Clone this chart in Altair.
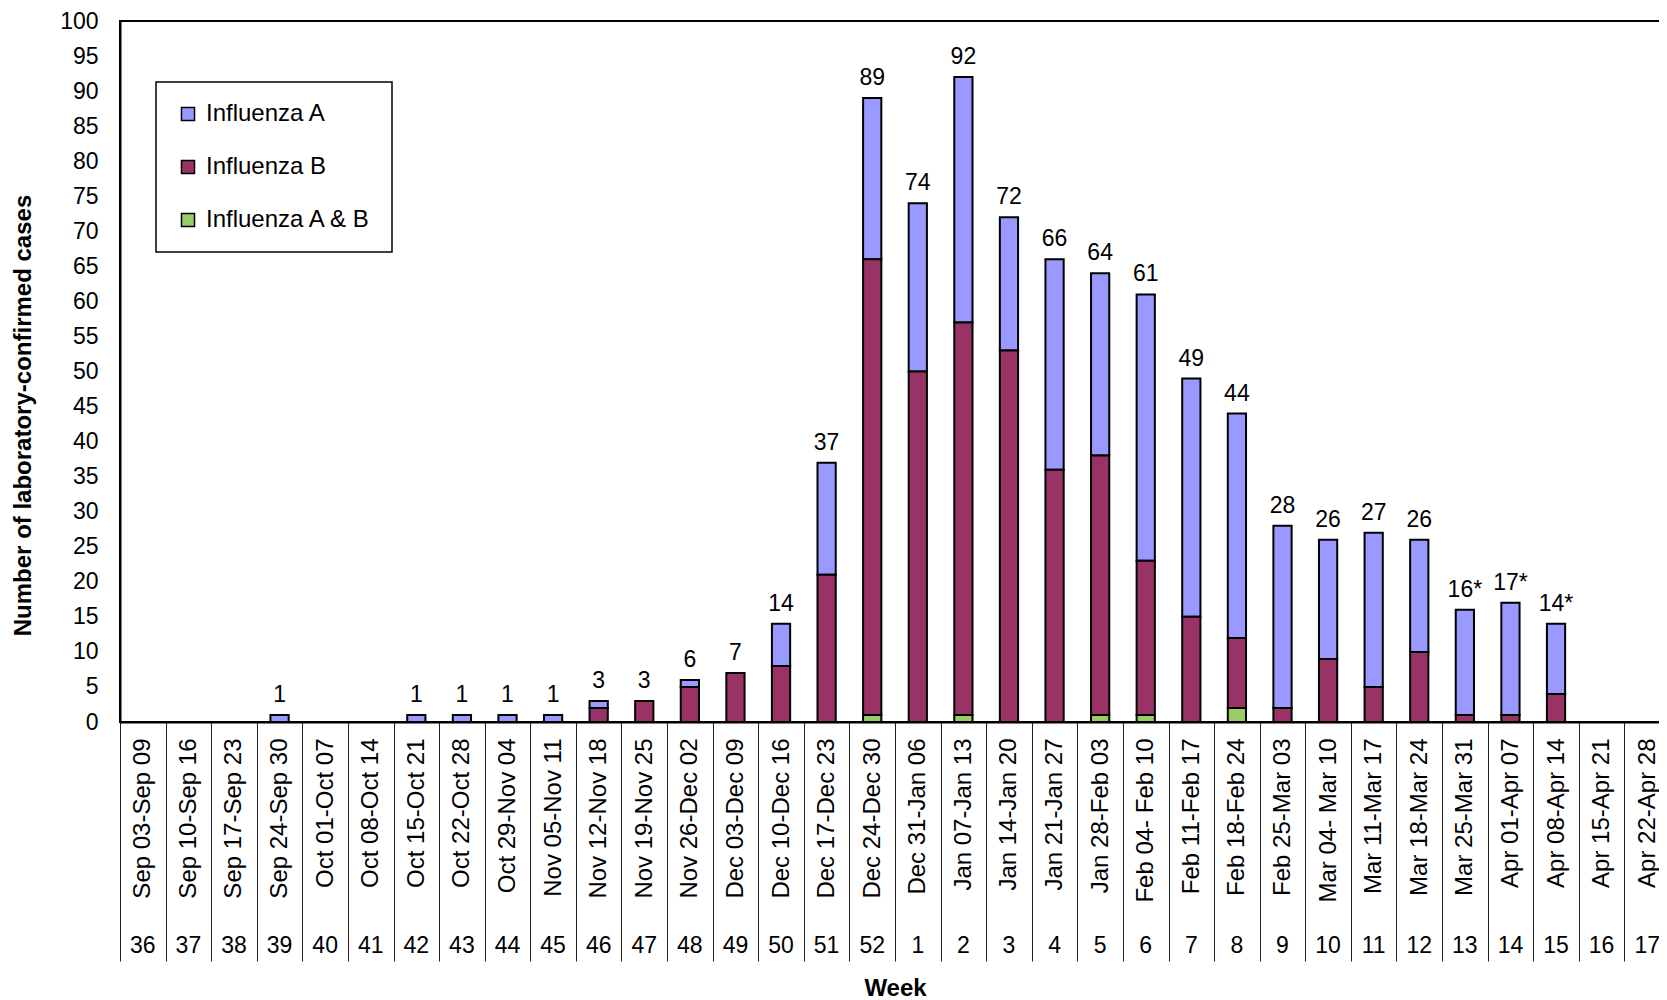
import altair as alt
import pandas as pd

# ---- data ----
weeks = [36, 37, 38, 39, 40, 41, 42, 43, 44, 45, 46, 47, 48, 49, 50, 51, 52,
         1, 2, 3, 4, 5, 6, 7, 8, 9, 10, 11, 12, 13, 14, 15, 16, 17]

date_ranges = [
    "Sep 03-Sep 09", "Sep 10-Sep 16", "Sep 17-Sep 23", "Sep 24-Sep 30",
    "Oct 01-Oct 07", "Oct 08-Oct 14", "Oct 15-Oct 21", "Oct 22-Oct 28",
    "Oct 29-Nov 04", "Nov 05-Nov 11", "Nov 12-Nov 18", "Nov 19-Nov 25",
    "Nov 26-Dec 02", "Dec 03-Dec 09", "Dec 10-Dec 16", "Dec 17-Dec 23",
    "Dec 24-Dec 30", "Dec 31-Jan 06", "Jan 07-Jan 13", "Jan 14-Jan 20",
    "Jan 21-Jan 27", "Jan 28-Feb 03", "Feb 04- Feb 10", "Feb 11-Feb 17",
    "Feb 18-Feb 24", "Feb 25-Mar 03", "Mar 04- Mar 10", "Mar 11-Mar 17",
    "Mar 18-Mar 24", "Mar 25-Mar 31", "Apr 01-Apr 07", "Apr 08-Apr 14",
    "Apr 15-Apr 21", "Apr 22-Apr 28",
]

flu_a = [0, 0, 0, 1, 0, 0, 1, 1, 1, 1, 1, 0, 1, 0, 6, 16, 23,
         24, 35, 19, 30, 26, 38, 34, 32, 26, 17, 22, 16, 15, 16, 10, 0, 0]
flu_b = [0, 0, 0, 0, 0, 0, 0, 0, 0, 0, 2, 3, 5, 7, 8, 21, 65,
         50, 56, 53, 36, 37, 22, 15, 10, 2, 9, 5, 10, 1, 1, 4, 0, 0]
flu_ab = [0, 0, 0, 0, 0, 0, 0, 0, 0, 0, 0, 0, 0, 0, 0, 0, 1,
          0, 1, 0, 0, 1, 1, 0, 2, 0, 0, 0, 0, 0, 0, 0, 0, 0]

total_labels = ["", "", "", "1", "", "", "1", "1", "1", "1", "3", "3", "6", "7",
                "14", "37", "89", "74", "92", "72", "66", "64", "61", "49", "44",
                "28", "26", "27", "26", "16*", "17*", "14*", "", ""]

y_tick_values = [0, 5, 10, 15, 20, 25, 30, 35, 40, 45, 50,
                 55, 60, 65, 70, 75, 80, 85, 90, 95, 100]

series_names = ["Influenza A", "Influenza B", "Influenza A & B"]
series_colors = ["#9999FF", "#993366", "#99CC66"]
stack_rank = [2, 1, 0]  # A on top, B middle, A & B at bottom

# ---- tables built from the arrays ----
rows = []
for i, dr in enumerate(date_ranges):
    for name, vals, rk in zip(series_names, [flu_a, flu_b, flu_ab], stack_rank):
        rows.append({"range": dr, "series": name, "count": vals[i], "rank": rk})
bars_df = pd.DataFrame(rows)

lab_df = pd.DataFrame({
    "range": date_ranges,
    "week": [str(w) for w in weeks],
    "total": [a + b + c for a, b, c in zip(flu_a, flu_b, flu_ab)],
    "label": total_labels,
})

FONT = "Liberation Sans"

x_band = alt.Scale(paddingInner=0, paddingOuter=0)
y_scale = alt.Scale(domain=[0, 100], nice=False)

x_axis = alt.Axis(
    title="Week",
    labelAngle=270,
    labelAlign="right",
    labelBaseline="middle",
    labelFontSize=24,
    labelColor="black",
    labelPadding=-223,
    labelLimit=400,
    labelOverlap=False,
    tickBand="extent",
    tickSize=239,
    tickColor="#222222",
    tickWidth=1,
    domainColor="black",
    domainWidth=2,
    titleFontSize=24,
    titleFontWeight="bold",
    titleColor="black",
    titleY=266,
    titleBaseline="middle",
)

y_axis = alt.Axis(
    values=y_tick_values,
    tickCount=21,
    ticks=False,
    grid=False,
    domainColor="black",
    domainWidth=2,
    labelFontSize=23,
    labelColor="black",
    labelPadding=22,
    labelOverlap=False,
    title="Number of laboratory-confirmed cases",
    titleFontSize=24,
    titleFontWeight="bold",
    titleColor="black",
    titleX=-97,
    titleY=394,
    titleAngle=270,
    titleAlign="center",
    titleBaseline="middle",
)

bars = alt.Chart(bars_df).transform_filter("datum.count > 0").mark_bar(
    stroke="black", strokeWidth=2, width=alt.RelativeBandSize(0.4)
).encode(
    x=alt.X("range:N", sort=date_ranges, scale=x_band, axis=x_axis),
    y=alt.Y("count:Q", stack="zero", scale=y_scale, axis=y_axis),
    color=alt.Color(
        "series:N",
        scale=alt.Scale(domain=series_names, range=series_colors),
        legend=alt.Legend(orient="none", legendX=36, legendY=61, title=None),
    ),
    order=alt.Order("rank:Q", sort="ascending"),
)

totals = alt.Chart(lab_df).transform_filter("datum.label != ''").mark_text(
    baseline="alphabetic", dy=-13, fontSize=23, color="black"
).encode(
    x=alt.X("range:N", sort=date_ranges, scale=x_band, axis=x_axis),
    y=alt.Y("total:Q", scale=y_scale, axis=y_axis),
    text="label:N",
)

weeknums = alt.Chart(lab_df).mark_text(
    baseline="middle", fontSize=23, color="black"
).encode(
    x=alt.X("range:N", sort=date_ranges, scale=x_band, axis=x_axis),
    y=alt.value(925),
    text="week:N",
)

chart = alt.layer(bars, totals, weeknums).properties(
    width=1550,
    height=701,
    autosize=alt.AutoSizeParams(type="none"),
    padding={"left": 112, "top": 13, "right": -11, "bottom": 277},
    background="white",
).configure(
    font=FONT,
).configure_view(
    stroke="black",
    strokeWidth=2,
).configure_legend(
    strokeColor="black",
    strokeWidth=1.5,
    fillColor="white",
    padding=20,
    rowPadding=29,
    symbolType="square",
    symbolSize=170,
    symbolStrokeColor="black",
    symbolStrokeWidth=1.5,
    labelFontSize=24,
    labelColor="black",
    labelOffset=6,
    labelLimit=400,
)

chart.save("out.html", embed_options={"renderer": "svg", "actions": False})
